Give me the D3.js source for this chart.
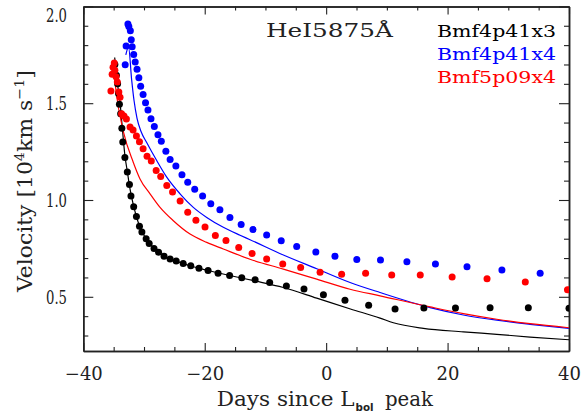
<!DOCTYPE html>
<html lang="en">
<head>
<meta charset="UTF-8">
<title>HeI5875 velocity</title>
<script src="https://d3js.org/d3.v7.min.js"></script>
<style>
    body { margin: 0; background: #fff; }
    svg { display: block; background: #fff; }
    text { font-family: "DejaVu Serif", serif; }
</style>
</head>
<body>
<div id="chart"></div>
<script>
// ---- data ----
const seriesNames = ["Bmf4p41x3", "Bmf4p41x4", "Bmf5p09x4"];
const seriesColors = ["#000000", "#0000ff", "#ff0000"];

// measured points (days since Lbol peak, velocity in 1e4 km/s)
const x3Days = [-34.8, -34.55, -34.35, -34.2, -34.05, -33.85, -33.65, -33.5, -33.15, -32.75, -32.4, -32.15, -31.7, -31.25, -30.75, -30.35, -29.65, -29.15, -28.35, -27.6, -26.7, -25.7, -24.7, -23.55, -22.3, -20.95, -19.45, -17.8, -15.9, -13.9, -11.7, -9.3, -6.55, -3.65, -0.45, 3.1, 7.0, 11.35, 16.1, 21.3, 27.0, 33.3, 40.0];
const x3Vel = [1.70, 1.645, 1.60, 1.55, 1.495, 1.445, 1.37, 1.30, 1.22, 1.145, 1.08, 1.02, 0.965, 0.915, 0.865, 0.835, 0.80, 0.775, 0.75, 0.73, 0.71, 0.695, 0.685, 0.672, 0.66, 0.648, 0.636, 0.622, 0.61, 0.598, 0.588, 0.574, 0.556, 0.54, 0.51, 0.482, 0.456, 0.437, 0.442, 0.442, 0.444, 0.444, 0.441];

const x4Days = [-33.1, -32.95, -32.65, -32.5, -32.25, -32.1, -31.95, -31.7, -31.45, -31.15, -30.85, -30.55, -30.15, -29.75, -29.35, -28.85, -28.3, -27.7, -27.15, -26.4, -25.7, -24.75, -23.75, -22.8, -21.65, -20.35, -19.0, -17.5, -15.85, -14.0, -12.05, -9.8, -7.4, -4.85, -1.7, 1.45, 5.05, 8.95, 13.3, 18.0, 23.2, 28.95, 35.25];
const x4Vel = [1.698, 1.796, 1.909, 1.896, 1.874, 1.828, 1.791, 1.752, 1.713, 1.675, 1.631, 1.588, 1.545, 1.502, 1.465, 1.42, 1.38, 1.337, 1.303, 1.252, 1.209, 1.175, 1.131, 1.092, 1.055, 1.02, 0.981, 0.95, 0.91, 0.874, 0.847, 0.819, 0.79, 0.76, 0.731, 0.71, 0.693, 0.69, 0.681, 0.67, 0.655, 0.639, 0.622];

const p09Days = [-35.45, -35.25, -35.1, -34.9, -34.8, -34.6, -34.4, -34.15, -33.95, -33.7, -33.3, -32.9, -32.3, -31.8, -31.25, -30.75, -30.15, -29.5, -28.8, -28.0, -27.25, -26.25, -25.3, -24.05, -22.8, -21.45, -19.95, -18.25, -16.5, -14.4, -12.2, -9.8, -7.15, -4.2, -1.0, 2.55, 6.5, 10.8, 15.5, 20.75, 26.5, 32.8, 39.75];
const p09Vel = [1.563, 1.65, 1.686, 1.707, 1.67, 1.636, 1.61, 1.558, 1.531, 1.446, 1.434, 1.419, 1.377, 1.362, 1.33, 1.301, 1.265, 1.226, 1.202, 1.152, 1.122, 1.075, 1.041, 0.995, 0.937, 0.895, 0.861, 0.817, 0.791, 0.755, 0.724, 0.695, 0.67, 0.651, 0.627, 0.617, 0.622, 0.613, 0.612, 0.602, 0.593, 0.577, 0.537];

// model curves
const x3ModelDays = [-34.83, -34.45, -33.95, -33.54, -33.13, -32.72, -32.42, -31.7, -30.77, -29.67, -28.35, -26.71, -24.68, -22.31, -19.46, -15.88, -11.71, -7.05, -1.55, 4.0, 8.88, 11.07, 16.01, 22.6, 28.1, 33.59, 40];
const x3ModelVel = [1.736, 1.619, 1.505, 1.36, 1.225, 1.142, 1.078, 0.967, 0.867, 0.80, 0.752, 0.708, 0.684, 0.659, 0.636, 0.61, 0.582, 0.548, 0.493, 0.437, 0.39, 0.366, 0.337, 0.319, 0.306, 0.292, 0.278];

const x4ModelDays = [-33.0, -32.55, -32.03, -31.65, -31.15, -30.49, -29.56, -27.91, -26.26, -24.07, -21.88, -19.67, -16.94, -14.18, -12.54, -7.05, -1.55, 3.94, 8.88, 17.12, 22.6, 28.1, 33.59, 40];
const x4ModelVel = [1.75, 1.79, 1.619, 1.515, 1.422, 1.354, 1.297, 1.204, 1.118, 1.032, 0.962, 0.91, 0.859, 0.818, 0.795, 0.716, 0.645, 0.574, 0.522, 0.444, 0.406, 0.379, 0.358, 0.337];

const p09ModelDays = [-35.02, -34.5, -33.41, -31.76, -30.66, -29.01, -27.36, -25.17, -22.42, -19.67, -16.94, -12.54, -7.05, -1.55, 3.94, 8.88, 17.12, 22.6, 28.1, 33.59, 40];
const p09ModelVel = [1.681, 1.536, 1.354, 1.194, 1.109, 1.032, 0.962, 0.893, 0.824, 0.781, 0.747, 0.694, 0.643, 0.591, 0.539, 0.505, 0.448, 0.413, 0.384, 0.361, 0.34];

const xMajor = [-40, -20, 0, 20, 40];
const xMinor = d3.range(-35, 40, 5).filter(d => d % 20 !== 0);
const yMajor = [0.5, 1.0, 1.5, 2.0];
const yMinor = [0.3, 0.4, 0.6, 0.7, 0.8, 0.9, 1.1, 1.2, 1.3, 1.4, 1.6, 1.7, 1.8, 1.9];

// ---- layout ----
const width = 582, height = 415;
const plot = {left: 83.3, right: 569, top: 6.4, bottom: 351};

const svg = d3.select("#chart").append("svg")
    .attr("width", width)
    .attr("height", height);

const x = d3.scaleLinear().domain([-40, 40]).range([plot.left, plot.right]);
const y = d3.scaleLinear().domain([0.22, 2.0]).range([plot.bottom, plot.top]);

const axisColor = "#222";

// minor ticks first, then majors with labels
function styleAxis(g) {
    g.attr("font-family", null).attr("font-size", null);
    g.selectAll("path, line").attr("stroke", axisColor);
    g.select(".domain").attr("stroke-width", 1.5);
    g.selectAll(".tick line").attr("stroke-width", 1.1);
}

// bottom
svg.append("g").attr("transform", `translate(0,${plot.bottom})`)
    .call(d3.axisBottom(x).tickValues(xMinor).tickSize(-4).tickSizeOuter(0).tickFormat(""))
    .call(styleAxis);
const xAx = svg.append("g").attr("transform", `translate(0,${plot.bottom})`)
    .call(d3.axisBottom(x).tickValues(xMajor).tickSize(-8).tickSizeOuter(0))
    .call(styleAxis);
xAx.selectAll("text")
    .attr("y", 29).attr("dy", 0)
    .attr("fill", "#222")
    .style("font-size", "18px");

// top
svg.append("g").attr("transform", `translate(0,${plot.top})`)
    .call(d3.axisTop(x).tickValues(xMinor).tickSize(-4).tickSizeOuter(0).tickFormat(""))
    .call(styleAxis);
svg.append("g").attr("transform", `translate(0,${plot.top})`)
    .call(d3.axisTop(x).tickValues(xMajor).tickSize(-8).tickSizeOuter(0).tickFormat(""))
    .call(styleAxis);

// left
svg.append("g").attr("transform", `translate(${plot.left},0)`)
    .call(d3.axisLeft(y).tickValues(yMinor).tickSize(-5).tickSizeOuter(0).tickFormat(""))
    .call(styleAxis);
const yAx = svg.append("g").attr("transform", `translate(${plot.left},0)`)
    .call(d3.axisLeft(y).tickValues(yMajor).tickSize(-10).tickSizeOuter(0).tickFormat(d3.format(".1f")))
    .call(styleAxis);
yAx.selectAll("text")
    .attr("x", -16.3)
    .attr("dy", "0.37em")
    .attr("fill", "#222")
    .attr("textLength", 21)
    .attr("lengthAdjust", "spacingAndGlyphs")
    .style("font-size", "18px");
// the top label sits a bit lower so it stays inside the picture
yAx.selectAll(".tick").filter(d => d === 2.0).select("text").attr("y", 8.6);

// right
svg.append("g").attr("transform", `translate(${plot.right},0)`)
    .call(d3.axisRight(y).tickValues(yMinor).tickSize(-5).tickSizeOuter(0).tickFormat(""))
    .call(styleAxis);
svg.append("g").attr("transform", `translate(${plot.right},0)`)
    .call(d3.axisRight(y).tickValues(yMajor).tickSize(-10).tickSizeOuter(0).tickFormat(""))
    .call(styleAxis);

// ---- marks ----
svg.append("clipPath").attr("id", "clip")
    .append("rect")
    .attr("x", plot.left).attr("y", plot.top)
    .attr("width", plot.right - plot.left)
    .attr("height", plot.bottom - plot.top);

const marks = svg.append("g").attr("clip-path", "url(#clip)");

const line = d3.line()
    .x(d => x(d[0]))
    .y(d => y(d[1]))
    .curve(d3.curveMonotoneX);

const models = [
    [x3ModelDays, x3ModelVel, seriesColors[0]],
    [x4ModelDays, x4ModelVel, seriesColors[1]],
    [p09ModelDays, p09ModelVel, seriesColors[2]]
];
models.forEach(([days, vel, col]) => {
    marks.append("path")
        .datum(d3.zip(days, vel))
        .attr("d", line)
        .attr("fill", "none")
        .attr("stroke", col)
        .attr("stroke-width", 1.2);
});

const observed = [
    [x3Days, x3Vel, seriesColors[0]],
    [p09Days, p09Vel, seriesColors[2]],
    [x4Days, x4Vel, seriesColors[1]]
];
observed.forEach(([days, vel, col]) => {
    marks.append("g")
        .selectAll("circle")
        .data(d3.zip(days, vel))
        .join("circle")
        .attr("cx", d => x(d[0]))
        .attr("cy", d => y(d[1]))
        .attr("r", 3.5)
        .attr("fill", col);
});

// ---- labels ----
svg.append("text")
    .attr("x", 266).attr("y", 36.7)
    .attr("textLength", 127)
    .attr("lengthAdjust", "spacingAndGlyphs")
    .style("font-size", "19px")
    .attr("fill", "#222")
    .text("HeI5875Å");

const legendY = [37, 59.5, 82.5];
seriesNames.forEach((name, i) => {
    svg.append("text")
        .attr("x", 556).attr("y", legendY[i])
        .attr("text-anchor", "end")
        .attr("textLength", 119)
        .attr("lengthAdjust", "spacingAndGlyphs")
        .style("font-size", "16px")
        .attr("fill", seriesColors[i])
        .text(name);
});

// x title: Days since L_bol peak
svg.append("text")
    .attr("x", 216.7).attr("y", 406)
    .attr("textLength", 138).attr("lengthAdjust", "spacingAndGlyphs")
    .style("font-size", "19.5px").attr("fill", "#222")
    .text("Days since L");
svg.append("text")
    .attr("x", 355.5).attr("y", 411)
    .attr("textLength", 18).attr("lengthAdjust", "spacingAndGlyphs")
    .style("font-family", "'DejaVu Sans', sans-serif")
    .style("font-weight", "bold")
    .style("font-size", "11px").attr("fill", "#222")
    .text("bol");
svg.append("text")
    .attr("x", 385).attr("y", 406)
    .attr("textLength", 48).attr("lengthAdjust", "spacingAndGlyphs")
    .style("font-size", "19.5px").attr("fill", "#222")
    .text("peak");

// y title, rotated and stretched to its length in the figure
const yTitleG = svg.append("g");
const yTitle = yTitleG.append("text")
    .attr("x", 0).attr("y", 0)
    .style("font-size", "20px")
    .attr("fill", "#222");
yTitle.append("tspan").text("Velocity [10");
yTitle.append("tspan").attr("dy", -8).style("font-size", "13px").text("4");
yTitle.append("tspan").attr("dy", 8).text("km s");
yTitle.append("tspan").attr("dy", -8).style("font-size", "13px").text("−1");
yTitle.append("tspan").attr("dy", 8).text("]");
const yTitleLen = yTitle.node().getComputedTextLength();
yTitleG.attr("transform", `translate(31.7,292) rotate(-90) scale(${222 / yTitleLen},1)`);
</script>
</body>
</html>
